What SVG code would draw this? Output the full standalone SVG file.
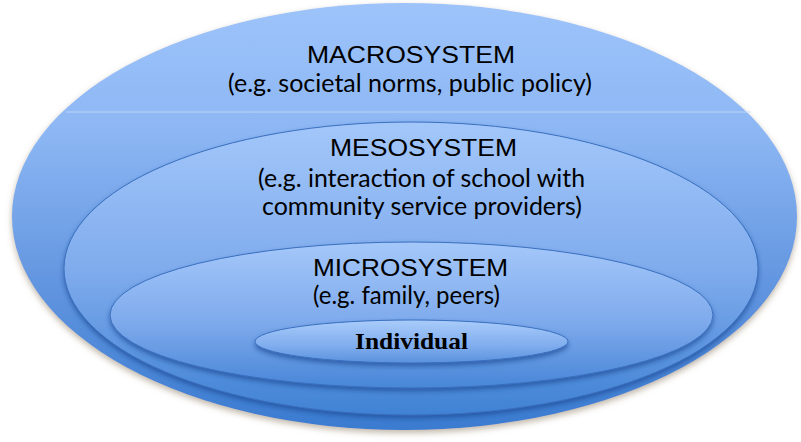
<svg xmlns="http://www.w3.org/2000/svg" width="801" height="442" viewBox="0 0 801 442">
<style>
.title{font-family:"Liberation Sans",Arial,sans-serif;font-size:24px;fill:#000}
.sub{font-family:Lato,"Open Sans",sans-serif;font-size:25px;fill:#000}
.ind{font-family:"Liberation Serif","Times New Roman",serif;font-size:24px;font-weight:bold;fill:#000}
.ring{stroke:#3a6fbf;stroke-width:1}
</style>
<defs>
<linearGradient id="gOuter" x1="0" y1="0" x2="0" y2="1">
<stop offset="0" stop-color="#9dc3fa"/>
<stop offset="0.3" stop-color="#8db7f4"/>
<stop offset="0.65" stop-color="#6396e0"/>
<stop offset="1" stop-color="#3a7bd0"/>
</linearGradient>
<linearGradient id="gMeso" x1="0" y1="0" x2="0" y2="1">
<stop offset="0" stop-color="#a3c7fa"/>
<stop offset="0.5" stop-color="#80aced"/>
<stop offset="1" stop-color="#4082d4"/>
</linearGradient>
<linearGradient id="gMicro" x1="0" y1="0" x2="0" y2="1">
<stop offset="0" stop-color="#a5c8fa"/>
<stop offset="0.55" stop-color="#7eaaec"/>
<stop offset="1" stop-color="#4886d7"/>
</linearGradient>
<linearGradient id="gInd" x1="0" y1="0" x2="0" y2="1">
<stop offset="0" stop-color="#a9ccfa"/>
<stop offset="0.6" stop-color="#80adee"/>
<stop offset="1" stop-color="#5a92dd"/>
</linearGradient>
<filter id="shOuter" x="-5%" y="-5%" width="110%" height="115%">
<feDropShadow dx="0" dy="3" stdDeviation="3" flood-color="#8a7a60" flood-opacity="0.55"/>
</filter>
<filter id="shIn" x="-5%" y="-5%" width="110%" height="120%">
<feDropShadow dx="0" dy="3" stdDeviation="2.5" flood-color="#1d4a94" flood-opacity="0.7"/>
</filter>
</defs>

<g id="macrosystem">
<ellipse cx="404.5" cy="216.5" rx="392.5" ry="213.5" fill="url(#gOuter)" filter="url(#shOuter)"/>
<line x1="66" y1="112" x2="751" y2="112" stroke="#c9dcf7" stroke-width="1" opacity="0.8"/>
<text class="title" x="307" y="63" textLength="208" lengthAdjust="spacingAndGlyphs">MACROSYSTEM</text>
<text class="sub" x="228" y="92" textLength="364" lengthAdjust="spacingAndGlyphs">(e.g. societal norms, public policy)</text>
</g>

<g id="mesosystem">
<ellipse class="ring" cx="411" cy="268.5" rx="347" ry="146.5" fill="url(#gMeso)" filter="url(#shIn)"/>
<text class="title" x="330" y="156" font-size="25" textLength="187" lengthAdjust="spacingAndGlyphs">MESOSYSTEM</text>
<text class="sub" x="258" y="187" textLength="327" lengthAdjust="spacingAndGlyphs">(e.g. interaction of school with</text>
<text class="sub" x="262" y="215" textLength="320" lengthAdjust="spacingAndGlyphs">community service providers)</text>
</g>

<g id="microsystem">
<ellipse class="ring" cx="411.5" cy="315" rx="301.5" ry="73" fill="url(#gMicro)" filter="url(#shIn)"/>
<text class="title" x="313" y="276" textLength="195" lengthAdjust="spacingAndGlyphs">MICROSYSTEM</text>
<text class="sub" x="313" y="304" font-size="24" textLength="187" lengthAdjust="spacingAndGlyphs">(e.g. family, peers)</text>
</g>

<g id="individual">
<ellipse class="ring" cx="411.5" cy="341.5" rx="156.5" ry="21.5" fill="url(#gInd)" filter="url(#shIn)"/>
<text class="ind" x="355" y="349" textLength="113" lengthAdjust="spacingAndGlyphs">Individual</text>
</g>

<g id="connectors"/>
</svg>
